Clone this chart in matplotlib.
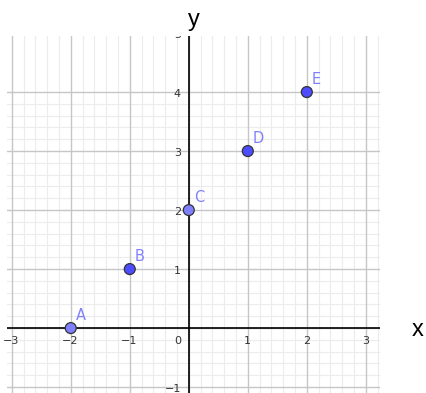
import numpy as np
import matplotlib
matplotlib.use("Agg")
import matplotlib.pyplot as plt
from matplotlib.transforms import offset_copy

# points and their names
names = ["A", "B", "C", "D", "E"]
px = [-2, -1, 0, 1, 2]
py = [0, 1, 2, 3, 4]
pcolors = ["#8080ff", "#4d4dff", "#8080ff", "#4d4dff", "#4d4dff"]

# tick labels
xticks = [-3, -2, -1, 1, 2, 3]
yticks = [-1, 1, 2, 3, 4, 5]

fig = plt.figure(figsize=(4.26, 3.93), dpi=100)
ax = fig.add_axes([7 / 426, 0, 373 / 426, 357 / 393])
ax.set_xlim(-3.08, 3.24)
ax.set_ylim(-1.1, 4.95)
ax.axis("off")

# grid: minor every 0.2, major every 1
for v in np.arange(-4, 4.01, 0.2):
    major = abs(v - round(v)) < 1e-6
    c = "#c6c6c6" if major else "#ececec"
    lw = 1.0 if major else 0.8
    ax.axvline(v, color=c, lw=lw, zorder=1 if major else 0)
    ax.axhline(v, color=c, lw=lw, zorder=1 if major else 0)

ax.axhline(0, color="black", lw=1.2, zorder=2)
ax.axvline(0, color="black", lw=1.2, zorder=2)

fs_tick = 8
tc = "#333333"
for t in xticks:
    lab = str(t).replace("-", "\u2212")
    ax.annotate(lab, (t, 0), xytext=(-1 if t < 0 else 0, -13), textcoords="offset pixels",
                ha="center", va="center", fontsize=fs_tick, color=tc, zorder=3)
ytr = offset_copy(ax.transData, fig=fig, x=-8, y=-2, units="dots")
for t in yticks:
    lab = str(t).replace("-", "\u2212")
    txt = ax.text(0, t, lab, transform=ytr, ha="right", va="center",
                  fontsize=fs_tick, color=tc, zorder=3)
    txt.set_clip_box(ax.bbox)
    txt.set_clip_on(True)
ax.annotate("0", (0, 0), xytext=(-11, -13), textcoords="offset pixels",
            ha="center", va="center", fontsize=fs_tick, color=tc, zorder=3)

ax.scatter(px, py, s=62, c=pcolors, edgecolors="#333333", linewidths=0.9, zorder=5)
for n, x, y in zip(names, px, py):
    ax.annotate(n, (x, y), xytext=(5, 13), textcoords="offset pixels",
                ha="left", va="center", fontsize=10.5, color="#8080ff", zorder=6)

fig.text(418 / 426, 1 - 330 / 393, "x", fontsize=17, ha="center", va="center",
         family="Liberation Sans")
fig.text(194 / 426, 1 - 20 / 393, "y", fontsize=17, ha="center", va="center",
         family="Liberation Sans")

fig.savefig("out.png", dpi=100)
